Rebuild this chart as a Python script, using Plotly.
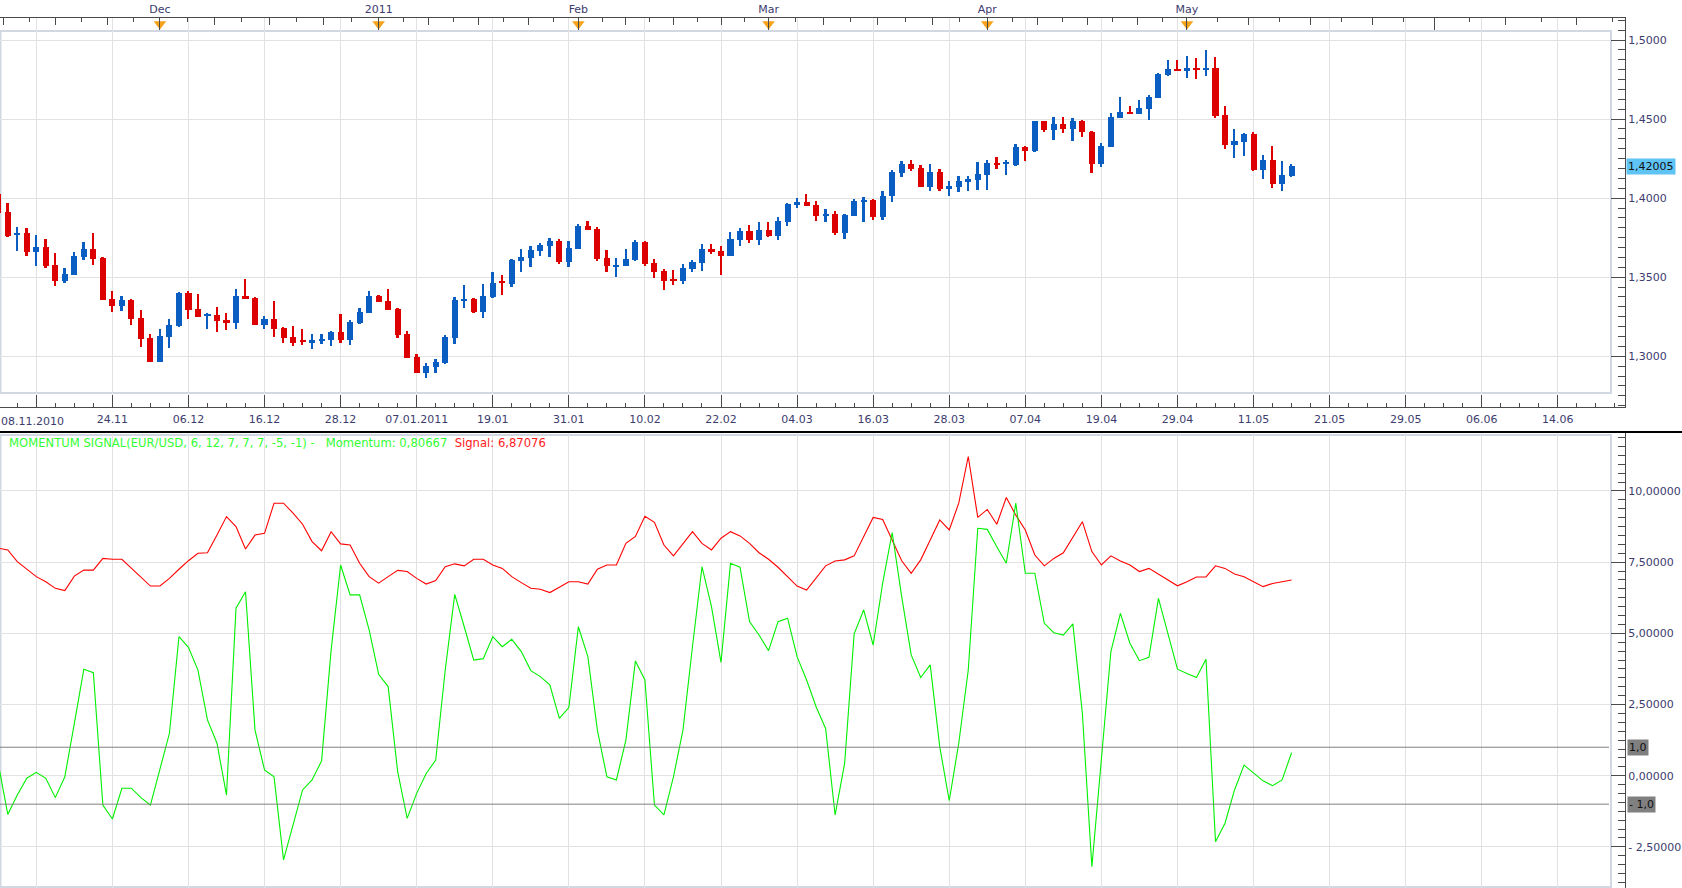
import plotly.graph_objects as go
import pandas as pd

# ---------------- data ----------------
dates = pd.bdate_range("2010-11-08", "2011-05-17")

opens = [1.4025, 1.3914, 1.3764, 1.3777, 1.3657, 1.3688, 1.3579, 1.3478, 1.3516, 1.3629,
         1.3680, 1.3623, 1.3364, 1.3320, 1.3358, 1.3244, 1.3118, 1.2966, 1.3124, 1.3194,
         1.3402, 1.3301, 1.3257, 1.3263, 1.3232, 1.3213, 1.3383, 1.3371, 1.3200, 1.3238,
         1.3181, 1.3124, 1.3099, 1.3086, 1.3099, 1.3105, 1.3156, 1.3105, 1.3213, 1.3276,
         1.3383, 1.3352, 1.3301, 1.3143, 1.2998, 1.2897, 1.2935, 1.2960, 1.3118, 1.3352,
         1.3364, 1.3282, 1.3377, 1.3472, 1.3459, 1.3604, 1.3623, 1.3667, 1.3699, 1.3730,
         1.3597, 1.3681, 1.3825, 1.3806, 1.3622, 1.3568, 1.3572, 1.3610, 1.3724, 1.3591,
         1.3540, 1.3485, 1.3473, 1.3555, 1.3593, 1.3679, 1.3667, 1.3635, 1.3736, 1.3793,
         1.3736, 1.3800, 1.3762, 1.3850, 1.3958, 1.3977, 1.3958, 1.3888, 1.3901, 1.3781,
         1.3888, 1.3977, 1.3989, 1.3882, 1.4011, 1.4160, 1.4217, 1.4192, 1.4072, 1.4167,
         1.4061, 1.4072, 1.4103, 1.4116, 1.4148, 1.4224, 1.4217, 1.4211, 1.4325, 1.4295,
         1.4485, 1.4430, 1.4470, 1.4435, 1.4485, 1.4420, 1.4219, 1.4325, 1.4508, 1.4546,
         1.4534, 1.4565, 1.4635, 1.4776, 1.4819, 1.4806, 1.4825, 1.4812, 1.4825, 1.4527,
         1.4338, 1.4357, 1.4407, 1.4179, 1.4243, 1.4091, 1.4141]
highs = [1.4035, 1.3971, 1.3819, 1.3813, 1.3768, 1.3741, 1.3651, 1.3558, 1.3661, 1.3724,
         1.3781, 1.3629, 1.3415, 1.3383, 1.3360, 1.3295, 1.3143, 1.3175, 1.3238, 1.3408,
         1.3415, 1.3396, 1.3276, 1.3314, 1.3276, 1.3427, 1.3491, 1.3377, 1.3257, 1.3352,
         1.3183, 1.3194, 1.3175, 1.3143, 1.3143, 1.3162, 1.3269, 1.3232, 1.3307, 1.3415,
         1.3389, 1.3427, 1.3303, 1.3162, 1.3017, 1.2960, 1.2985, 1.3137, 1.3377, 1.3453,
         1.3366, 1.3459, 1.3535, 1.3516, 1.3617, 1.3680, 1.3699, 1.3718, 1.3749, 1.3741,
         1.3730, 1.3835, 1.3857, 1.3819, 1.3673, 1.3622, 1.3679, 1.3736, 1.3730, 1.3616,
         1.3553, 1.3546, 1.3582, 1.3610, 1.3711, 1.3711, 1.3698, 1.3783, 1.3812, 1.3831,
         1.3850, 1.3850, 1.3882, 1.3970, 1.4002, 1.4027, 1.3983, 1.3932, 1.3920, 1.3897,
         1.3996, 1.4008, 1.3996, 1.4046, 1.4179, 1.4236, 1.4243, 1.4211, 1.4217, 1.4186,
         1.4110, 1.4141, 1.4141, 1.4230, 1.4243, 1.4262, 1.4241, 1.4342, 1.4331, 1.4487,
         1.4487, 1.4515, 1.4515, 1.4508, 1.4494, 1.4422, 1.4348, 1.4540, 1.4641, 1.4584,
         1.4622, 1.4654, 1.4793, 1.4876, 1.4876, 1.4901, 1.4888, 1.4939, 1.4895, 1.4584,
         1.4439, 1.4409, 1.4420, 1.4274, 1.4331, 1.4236, 1.4217]
lows = [1.3905, 1.3752, 1.3667, 1.3636, 1.3573, 1.3558, 1.3446, 1.3461, 1.3514, 1.3611,
        1.3579, 1.3356, 1.3282, 1.3288, 1.3200, 1.3061, 1.2966, 1.2964, 1.3055, 1.3187,
        1.3238, 1.3251, 1.3175, 1.3156, 1.3168, 1.3175, 1.3362, 1.3198, 1.3175, 1.3124,
        1.3086, 1.3067, 1.3074, 1.3048, 1.3080, 1.3067, 1.3086, 1.3074, 1.3206, 1.3274,
        1.3343, 1.3293, 1.3118, 1.2990, 1.2895, 1.2865, 1.2897, 1.2954, 1.3080, 1.3307,
        1.3276, 1.3244, 1.3371, 1.3389, 1.3440, 1.3535, 1.3566, 1.3636, 1.3629, 1.3582,
        1.3565, 1.3679, 1.3798, 1.3603, 1.3536, 1.3502, 1.3568, 1.3603, 1.3572, 1.3492,
        1.3422, 1.3451, 1.3456, 1.3530, 1.3540, 1.3646, 1.3515, 1.3633, 1.3698, 1.3719,
        1.3705, 1.3755, 1.3736, 1.3825, 1.3935, 1.3949, 1.3857, 1.3850, 1.3768, 1.3743,
        1.3886, 1.3850, 1.3863, 1.3863, 1.3977, 1.4135, 1.4173, 1.4070, 1.4046, 1.4046,
        1.4015, 1.4040, 1.4046, 1.4053, 1.4053, 1.4186, 1.4148, 1.4205, 1.4236, 1.4289,
        1.4416, 1.4369, 1.4409, 1.4363, 1.4388, 1.4156, 1.4200, 1.4323, 1.4504, 1.4534,
        1.4532, 1.4496, 1.4633, 1.4770, 1.4804, 1.4762, 1.4755, 1.4774, 1.4508, 1.4312,
        1.4255, 1.4268, 1.4173, 1.4122, 1.4065, 1.4046, 1.4131]
closes = [1.3909, 1.3762, 1.3777, 1.3657, 1.3688, 1.3573, 1.3478, 1.3522, 1.3636, 1.3680,
          1.3617, 1.3358, 1.3320, 1.3358, 1.3238, 1.3112, 1.2966, 1.3131, 1.3200, 1.3402,
          1.3295, 1.3251, 1.3263, 1.3225, 1.3213, 1.3383, 1.3364, 1.3200, 1.3238, 1.3175,
          1.3118, 1.3086, 1.3093, 1.3105, 1.3112, 1.3156, 1.3105, 1.3219, 1.3282, 1.3383,
          1.3345, 1.3295, 1.3137, 1.2992, 1.2897, 1.2941, 1.2966, 1.3124, 1.3358, 1.3364,
          1.3282, 1.3383, 1.3465, 1.3465, 1.3611, 1.3629, 1.3674, 1.3705, 1.3731, 1.3597,
          1.3684, 1.3825, 1.3800, 1.3618, 1.3568, 1.3578, 1.3616, 1.3724, 1.3586, 1.3536,
          1.3473, 1.3479, 1.3559, 1.3597, 1.3679, 1.3662, 1.3635, 1.3743, 1.3793, 1.3736,
          1.3800, 1.3762, 1.3857, 1.3964, 1.3977, 1.3951, 1.3888, 1.3901, 1.3781, 1.3895,
          1.3983, 1.3989, 1.3882, 1.4015, 1.4167, 1.4217, 1.4186, 1.4072, 1.4167, 1.4059,
          1.4078, 1.4110, 1.4122, 1.4154, 1.4224, 1.4211, 1.4224, 1.4325, 1.4295, 1.4485,
          1.4430, 1.4470, 1.4435, 1.4485, 1.4416, 1.4219, 1.4329, 1.4515, 1.4546, 1.4536,
          1.4572, 1.4641, 1.4783, 1.4819, 1.4806, 1.4825, 1.4812, 1.4825, 1.4521, 1.4338,
          1.4363, 1.4407, 1.4179, 1.4243, 1.4091, 1.4148, 1.42005]

momentum = [0.43, -1.36, -0.68, -0.09, 0.12, -0.09, -0.77, -0.04, 1.84, 3.74,
            3.62, -1.03, -1.52, -0.44, -0.44, -0.77, -1.03, 0.20, 1.49, 4.88,
            4.51, 3.71, 1.96, 1.14, -0.68, 5.88, 6.46, 1.60, 0.20, -0.04,
            -2.96, -1.73, -0.50, -0.15, 0.52, 4.40, 7.40, 6.35, 6.35, 5.12,
            3.56, 3.13, 0.14, -1.50, -0.62, 0.08, 0.55, 3.71, 6.37, 5.23,
            4.06, 4.11, 4.88, 4.53, 4.79, 4.36, 3.69, 3.48, 3.19, 2.01,
            2.39, 5.23, 4.18, 1.60, -0.04, -0.15, 1.25, 4.03, 3.36, -1.03,
            -1.38, -0.04, 1.60, 4.53, 7.34, 5.94, 3.98, 7.46, 7.32, 5.41,
            4.94, 4.39, 5.41, 5.53, 4.18, 3.36, 2.42, 1.66, -1.38, 0.43,
            4.98, 5.82, 4.59, 6.76, 8.54, 6.29, 4.24, 3.45, 3.89, 1.02,
            -0.88, 1.14, 3.71, 8.69, 8.65, 8.04, 7.46, 9.57, 7.11, 7.11,
            5.35, 5.02, 4.94, 5.33, 2.19, -3.20, 0.50, 4.36, 5.70, 4.65,
            4.04, 4.16, 6.23, 5.00, 3.74, 3.59, 3.45, 4.09, -2.32, -1.67,
            -0.50, 0.37, 0.08, -0.18, -0.35, -0.15, 0.80667]
signal = [7.99, 7.93, 7.52, 7.25, 6.99, 6.81, 6.58, 6.50, 7.01, 7.22,
          7.22, 7.63, 7.60, 7.60, 7.28, 6.97, 6.66, 6.66, 6.93, 7.25,
          7.55, 7.81, 7.83, 8.45, 9.10, 8.75, 7.96, 8.45, 8.51, 9.57,
          9.57, 9.22, 8.83, 8.22, 7.90, 8.57, 8.14, 8.10, 7.46, 6.99,
          6.76, 6.99, 7.21, 7.17, 6.93, 6.73, 6.85, 7.34, 7.44, 7.37,
          7.60, 7.60, 7.40, 7.28, 6.99, 6.78, 6.58, 6.55, 6.43, 6.62,
          6.81, 6.81, 6.73, 7.25, 7.40, 7.40, 8.16, 8.40, 9.11, 8.90,
          8.10, 7.72, 8.16, 8.57, 8.16, 7.93, 8.34, 8.57, 8.42, 8.16,
          7.83, 7.60, 7.32, 6.99, 6.66, 6.52, 6.93, 7.37, 7.54, 7.58,
          7.72, 8.40, 9.07, 9.00, 8.28, 7.55, 7.11, 7.58, 8.28, 8.98,
          8.63, 9.57, 11.21, 9.07, 9.35, 8.83, 9.77, 9.15, 8.63, 7.75,
          7.37, 7.63, 7.83, 8.40, 8.92, 7.87, 7.40, 7.72, 7.54, 7.40,
          7.17, 7.28, 7.08, 6.85, 6.67, 6.81, 6.98, 6.98, 7.37, 7.28,
          7.08, 6.99, 6.81, 6.64, 6.75, 6.81, 6.87076]

# bar index of tick dates (weekday bars, then calendar days after the last bar)
date_tick_bars = [12, 20, 28, 36, 44, 52, 60, 68, 76, 84, 92, 100, 108, 116, 124, 132,
                  140, 148, 156, 164]
date_tick_labels = ["24.11", "06.12", "16.12", "28.12", "07.01.2011", "19.01", "31.01",
                    "10.02", "22.02", "04.03", "16.03", "28.03", "07.04", "19.04", "29.04",
                    "11.05", "21.05", "29.05", "06.06", "14.06"]
first_date_label = "08.11.2010"
month_start_bars = [-5, 17, 40, 61, 81, 104, 125, 151, 181]
month_labels = ["", "Dec", "2011", "Feb", "Mar", "Apr", "May", "", ""]
marked_months = [17, 40, 61, 81, 104, 125]
price_ticks = [1.30, 1.35, 1.40, 1.45, 1.50]
price_tick_labels = ["1,3000", "1,3500", "1,4000", "1,4500", "1,5000"]
mom_ticks = [-2.5, 0.0, 2.5, 5.0, 7.5, 10.0]
mom_tick_labels = ["- 2,50000", "0,00000", "2,50000", "5,00000", "7,50000", "10,00000"]
band_levels = [1.0, -1.0]
band_labels = ["1,0", "- 1,0"]
last_price = 1.42005
last_price_label = "1,42005"
legend_green = "MOMENTUM SIGNAL(EUR/USD, 6, 12, 7, 7, 7, -5, -1) -\u00a0\u00a0\u00a0Momentum: 0,80667"
legend_red = "Signal: 6,87076"

# ---------------- styling ----------------
W, H = 1682, 888
ML, MR, MT, MB = 0, 57, 18, 0
PW = W - ML - MR            # 1625
PH = H - MT - MB            # 870
def py(px_y):               # page pixel y -> paper y
    return (H - MB - px_y) / PH
def pxx(px_x):              # page pixel x -> paper x
    return (px_x - ML) / PW

RED = "#dc0000"
BLUE = "#0a5ec2"
GRID = "#e2e2e2"
AXIS = "#4a4a4a"
TXT = "#3c3c6e"
BOX = "#d2d8e1"
FONT = "DejaVu Sans"

xs = list(range(len(dates)))
colors = [BLUE if c >= o else RED for o, c in zip(opens, closes)]
body_base = [min(o, c) for o, c in zip(opens, closes)]
body_h = [max(abs(c - o), 0.0011) for o, c in zip(opens, closes)]
wick_h = [h - l for h, l in zip(highs, lows)]

x_range = [0.183, 171.06]
price_range = [1.26794, 1.51391]
mom_range = [-3.944, 12.07]

fig = go.Figure()
fig.add_trace(go.Bar(x=xs, y=wick_h, base=lows, width=0.19, marker=dict(color=colors, line=dict(width=0)),
                     xaxis="x", yaxis="y", hoverinfo="skip", showlegend=False))
fig.add_trace(go.Bar(x=xs, y=body_h, base=body_base, width=0.64, marker=dict(color=colors, line=dict(width=0)),
                     xaxis="x", yaxis="y", hoverinfo="skip", showlegend=False))
fig.add_trace(go.Scatter(x=xs, y=signal, mode="lines", line=dict(color="#ff0000", width=1.1),
                         xaxis="x2", yaxis="y2", showlegend=False, hoverinfo="skip"))
fig.add_trace(go.Scatter(x=xs, y=momentum, mode="lines", line=dict(color="#00f000", width=1.1),
                         xaxis="x2", yaxis="y2", showlegend=False, hoverinfo="skip"))
# month markers on the top date strip
fig.add_trace(go.Scatter(x=marked_months, y=[1.5101] * len(marked_months), mode="markers",
                         marker=dict(symbol="triangle-down", size=11, color="#f7a21b", line=dict(width=0)),
                         xaxis="x3", yaxis="y", cliponaxis=False, showlegend=False, hoverinfo="skip"))

# top axis tick positions: eighth of each month
quarter_ticks, eighth_ticks = [], []
for a, b in zip(month_start_bars[:-1], month_start_bars[1:]):
    step = (b - a) / 8
    for j in range(1, 8):
        (quarter_ticks if j % 2 == 0 else eighth_ticks).append(a + j * step)
fig.add_trace(go.Scatter(x=[None], y=[None], xaxis="x4", yaxis="y", showlegend=False))

tickfont = dict(family=FONT, size=11, color=TXT)
fig.update_layout(
    width=W, height=H, margin=dict(l=ML, r=MR, t=MT, b=MB),
    paper_bgcolor="white", plot_bgcolor="white", barmode="overlay", bargap=0,
    showlegend=False, separators=",.",
    font=dict(family=FONT, size=11, color=TXT),
    xaxis=dict(domain=[0, 1], range=x_range, anchor="y", showgrid=True, gridcolor=GRID, gridwidth=1,
               zeroline=False, tickmode="array", tickvals=[4] + date_tick_bars,
               ticktext=[""] + date_tick_labels, ticks="inside", ticklen=12, tickcolor=AXIS,
               tickwidth=1, showline=True, linecolor=AXIS, linewidth=1, tickfont=tickfont,
               ticklabelstandoff=2,
               minor=dict(tickvals=[v for v in range(0, 172, 2) if (v - 4) % 8 != 0],
                          ticks="inside", ticklen=4, tickcolor=AXIS, showgrid=False)),
    yaxis=dict(domain=[py(407), 1], range=price_range, anchor="x", side="right", showgrid=True,
               gridcolor=GRID, zeroline=False, tickmode="array", tickvals=price_ticks,
               ticktext=price_tick_labels, ticks="inside", ticklen=14, tickcolor=AXIS,
               showline=True, linecolor=AXIS, linewidth=1, tickfont=tickfont,
               minor=dict(dtick=0.00625, tick0=1.5, ticks="inside", ticklen=7, tickcolor=AXIS,
                          showgrid=False)),
    xaxis3=dict(overlaying="x", anchor="y", side="top", range=x_range, showgrid=False,
                zeroline=False, tickmode="array", tickvals=month_start_bars, ticktext=month_labels,
                ticks="inside", ticklen=12, tickcolor=AXIS, showline=True, linecolor=AXIS,
                linewidth=1, tickfont=tickfont,
                minor=dict(tickvals=quarter_ticks, ticks="inside", ticklen=7, tickcolor=AXIS,
                           showgrid=False)),
    xaxis4=dict(overlaying="x", anchor="y", side="top", range=x_range, showgrid=False,
                zeroline=False, tickmode="array", tickvals=eighth_ticks, showticklabels=False,
                ticks="inside", ticklen=4, tickcolor=AXIS, showline=False),
    xaxis2=dict(domain=[0, 1], range=x_range, anchor="y2", showgrid=True, gridcolor=GRID,
                zeroline=False, tickmode="array", tickvals=[4] + date_tick_bars,
                showticklabels=False, ticks="", showline=False),
    yaxis2=dict(domain=[0, py(432)], range=mom_range, anchor="x2", side="right", showgrid=True,
                gridcolor=GRID, zeroline=False, tickmode="array", tickvals=mom_ticks,
                ticktext=mom_tick_labels, ticks="inside", ticklen=14, tickcolor=AXIS,
                showline=True, linecolor=AXIS, linewidth=1, tickfont=tickfont,
                minor=dict(dtick=0.3125, tick0=0, ticks="inside", ticklen=7, tickcolor=AXIS,
                           showgrid=False)),
)

shapes = [
    # hide grid in the strips around the inner boxes
    dict(type="rect", xref="paper", yref="paper", x0=0, x1=1, y0=py(31), y1=1,
         fillcolor="white", line=dict(width=0), layer="between"),
    dict(type="rect", xref="paper", yref="paper", x0=0, x1=1, y0=py(407), y1=py(393),
         fillcolor="white", line=dict(width=0), layer="between"),
    dict(type="rect", xref="paper", yref="paper", x0=pxx(1611), x1=1, y0=0, y1=1,
         fillcolor="white", line=dict(width=0), layer="between"),
    # inner boxes
    dict(type="rect", xref="paper", yref="paper", x0=pxx(0.5), x1=pxx(1611), y0=py(393), y1=py(31),
         line=dict(color=BOX, width=2), layer="between"),
    dict(type="rect", xref="paper", yref="paper", x0=pxx(0.5), x1=pxx(1611), y0=py(887), y1=py(435),
         line=dict(color=BOX, width=2), layer="between"),
    # separator between panels
    dict(type="line", xref="paper", yref="paper", x0=0, x1=W / PW, y0=py(432), y1=py(432),
         line=dict(color="black", width=2), layer="above"),
]
for lv in band_levels:
    shapes.append(dict(type="line", xref="paper", yref="y2", x0=0, x1=pxx(1609), y0=lv, y1=lv,
                       line=dict(color="#808080", width=1), layer="above"))
fig.update_layout(shapes=shapes)

annotations = [
    dict(xref="paper", yref="paper", x=0, y=py(421), xanchor="left", yanchor="middle",
         text=first_date_label, showarrow=False, font=tickfont, borderpad=0),
    dict(xref="paper", yref="paper", x=pxx(8), y=py(443), xanchor="left", yanchor="middle",
         text=f"<span style='color:#33ff33'>{legend_green}</span>\u00a0\u00a0"
              f"<span style='color:#ff1a1a'>{legend_red}</span>",
         showarrow=False, font=dict(family=FONT, size=11.6), borderpad=0),
    dict(xref="paper", yref="y", x=pxx(1626), y=last_price, xanchor="left", yanchor="middle",
         text=last_price_label, showarrow=False, bgcolor="#5fc4f4",
         font=dict(family=FONT, size=11, color="#111111"), borderpad=1),
]
for lv, lab in zip(band_levels, band_labels):
    annotations.append(dict(xref="paper", yref="y2", x=pxx(1627), y=lv, xanchor="left",
                            yanchor="middle", text=lab, showarrow=False, bgcolor="#808080",
                            font=dict(family=FONT, size=11, color="#111111"), borderpad=1))
fig.update_layout(annotations=annotations)

fig.write_html("out.html")
